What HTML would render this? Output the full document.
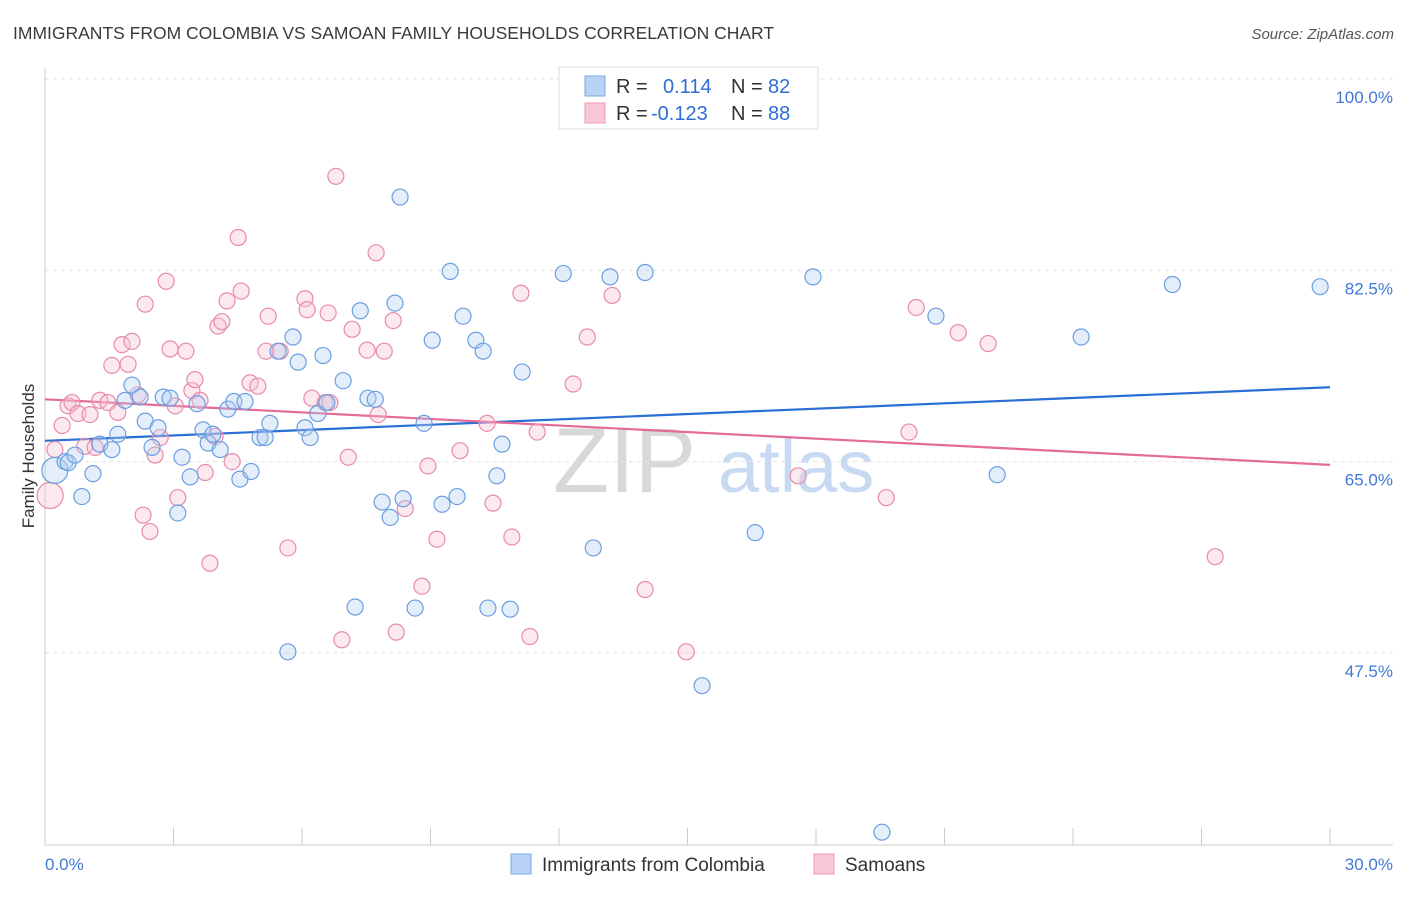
<!DOCTYPE html>
<html><head><meta charset="utf-8">
<style>
body{margin:0;background:#fff;font-family:"Liberation Sans",sans-serif;}
svg text{font-family:"Liberation Sans",sans-serif;}
</style></head>
<body>
<svg id="chart" width="1406" height="892" xmlns="http://www.w3.org/2000/svg">
<text x="13" y="39" font-size="17.5" fill="#3a3a3a">IMMIGRANTS FROM COLOMBIA VS SAMOAN FAMILY HOUSEHOLDS CORRELATION CHART</text>
<text x="1394" y="39" font-size="15" fill="#555" text-anchor="end" font-style="italic">Source: ZipAtlas.com</text>
<g>
<text x="553" y="492" font-size="92" fill="#d8d8d8" font-family="Liberation Serif, serif">ZIP</text>
<text x="718" y="492" font-size="74" fill="#c8daf2">atlas</text>
</g>
<g id="grid"></g>
<g id="axes"></g>
<g id="trends"></g>
<g id="points"></g>
<text transform="translate(34,456) rotate(-90)" font-size="17" fill="#333" text-anchor="middle">Family Households</text>
<g>
<rect x="559" y="67" width="259" height="62" fill="#fff" stroke="#ddd"/>
<rect x="585" y="76" width="20" height="20" fill="#b8d3f5" stroke="#7aa8e6"/>
<rect x="585" y="103" width="20" height="20" fill="#f9c8d8" stroke="#ee9ab5"/>
<text x="616" y="93" font-size="20" fill="#333">R = </text>
<text x="663" y="93" font-size="20" fill="#2d6fd6">0.114</text>
<text x="731" y="93" font-size="20" fill="#333">N = </text>
<text x="768" y="93" font-size="20" fill="#2d6fd6">82</text>
<text x="616" y="120" font-size="20" fill="#333">R = </text>
<text x="651" y="120" font-size="20" fill="#2d6fd6">-0.123</text>
<text x="731" y="120" font-size="20" fill="#333">N = </text>
<text x="768" y="120" font-size="20" fill="#2d6fd6">88</text>
</g>
<g>
<rect x="511" y="854" width="20" height="20" fill="#b8d3f5" stroke="#7aa8e6"/>
<text x="542" y="871" font-size="19" fill="#333">Immigrants from Colombia</text>
<rect x="814" y="854" width="20" height="20" fill="#f9c8d8" stroke="#ee9ab5"/>
<text x="845" y="871" font-size="19" fill="#333">Samoans</text>
</g>
</svg>
<script>
const yTicks=[100,82.5,65,47.5];
const yTickLabels=["100.0%","82.5%","65.0%","47.5%"];
const xTickLabels=["0.0%","30.0%"];
const blueX=[0.23,0.47,0.54,0.70,0.86,1.12,1.28,1.56,1.70,1.87,2.03,2.22,2.34,2.50,2.64,2.76,2.92,3.10,3.20,3.39,3.55,3.69,3.81,3.92,4.09,4.27,4.41,4.55,4.67,4.81,5.02,5.14,5.25,5.44,5.67,5.79,5.91,6.07,6.19,6.37,6.49,6.58,6.96,7.24,7.36,7.54,7.71,7.87,8.06,8.17,8.36,8.29,8.64,8.85,9.04,9.27,9.46,9.62,9.76,10.06,10.23,10.34,10.55,10.67,10.86,11.14,12.10,12.80,13.19,14.01,15.34,16.58,17.93,19.54,20.80,22.23,24.19,26.32,29.77];
const blueY=[64.2,65.0,64.9,65.6,61.8,63.9,66.6,66.1,67.5,70.6,72.0,70.9,68.7,66.3,68.1,70.9,70.8,60.3,65.4,63.6,70.3,67.9,66.7,67.5,66.1,69.8,70.5,63.4,70.5,64.1,67.2,67.2,68.5,75.1,47.6,76.4,74.1,68.1,67.2,69.4,74.7,70.4,72.4,51.7,78.8,70.8,70.7,61.3,59.9,79.5,61.6,89.2,51.6,68.5,76.1,61.1,82.4,61.8,78.3,76.1,75.1,51.6,63.7,66.6,51.5,73.2,82.2,57.1,81.9,82.3,44.5,58.5,81.9,31.1,78.3,63.8,76.4,81.2,81.0];
const pinkX=[0.12,0.23,0.40,0.54,0.63,0.77,0.93,1.05,1.17,1.28,1.47,1.56,1.70,1.80,1.94,2.03,2.17,2.29,2.34,2.45,2.57,2.69,2.83,2.92,3.04,3.10,3.29,3.43,3.50,3.62,3.74,3.85,3.97,4.04,4.13,4.25,4.37,4.51,4.58,4.79,4.97,5.16,5.21,5.49,5.67,6.07,6.12,6.23,6.54,6.61,6.65,6.79,6.93,7.08,7.17,7.52,7.73,7.78,7.92,8.13,8.20,8.41,8.80,8.94,9.15,9.69,10.32,10.46,10.90,11.11,11.32,11.49,12.33,12.66,13.24,14.01,14.97,17.58,19.64,20.17,20.34,21.32,22.02,27.32];
const pinkY=[61.9,66.1,68.3,70.1,70.4,69.4,66.4,69.3,66.3,70.6,70.4,73.8,69.5,75.7,73.9,76.0,71.1,60.1,79.4,58.6,65.6,67.2,81.5,75.3,70.1,61.7,75.1,71.5,72.5,70.6,64.0,55.7,67.3,77.4,77.8,79.7,65.0,85.5,80.6,72.2,71.9,75.1,78.3,75.1,57.1,79.9,78.9,70.8,70.4,78.6,70.4,91.1,48.7,65.4,77.1,75.2,84.1,69.3,75.1,77.9,49.4,60.7,53.6,64.6,57.9,66.0,68.5,61.2,58.1,80.4,49.0,67.7,72.1,76.4,80.2,53.3,47.6,63.7,61.7,67.7,79.1,76.8,75.8,56.3];
const blueTrend=[66.9,71.8];
const pinkTrend=[70.7,64.7];
const NS="http://www.w3.org/2000/svg";
const X0=45,X1=1330,Ytop=79,pxPerY=191.3/17.5;
function sx(v){return X0+(v/30)*(X1-X0);}
function sy(v){return Ytop+(100-v)*pxPerY;}
function mk(tag,attrs,parent){const e=document.createElementNS(NS,tag);for(const k in attrs)e.setAttribute(k,attrs[k]);document.getElementById(parent).appendChild(e);return e;}
yTicks.forEach((t,i)=>{
 const l=mk('line',{x1:X0,x2:1393,y1:sy(t),y2:sy(t),stroke:'#e2e2e2','stroke-dasharray':'4,4'},'grid');
 
 
 const tx=mk('text',{x:1393,y:sy(t)+24,'font-size':17,fill:'#3f78d6','text-anchor':'end'},'axes');
 tx.textContent=yTickLabels[i];
 
 
});
const ax=mk('line',{x1:X0,x2:1393,y1:845,y2:845,stroke:'#ccc'},'axes');


const ay=mk('line',{x1:X0,x2:X0,y1:68,y2:845,stroke:'#ccc'},'axes');


for(let i=0;i<=10;i++){
 const t=mk('line',{x1:sx(i*3),x2:sx(i*3),y1:828,y2:845,stroke:'#ccc'},'axes');
 
 
}
[[0,'start',45],[30,'end',1393]].forEach((d,i)=>{
 const t=mk('text',{x:d[2],y:870,'font-size':17,fill:'#3f78d6','text-anchor':d[1]},'axes');
 t.textContent=xTickLabels[i];
 
 
});
function dots(xs,ys,fill,stroke,name){
 xs.forEach((x,i)=>{
  const c=mk('circle',{cx:sx(x),cy:sy(ys[i]),r:i===0?13:8,fill:fill,'fill-opacity':0.35,stroke:stroke,'stroke-width':1.2},'points');
  
  
 });
}
dots(pinkX,pinkY,'#f7bfd1','#e88aab','samoan-point');
dots(blueX,blueY,'#b3cff3','#6c9ee0','colombia-point');
const bt=mk('line',{x1:sx(0),y1:sy(blueTrend[0]),x2:sx(30),y2:sy(blueTrend[1]),stroke:'#2a6fd4','stroke-width':2.2},'trends');


const pt=mk('line',{x1:sx(0),y1:sy(pinkTrend[0]),x2:sx(30),y2:sy(pinkTrend[1]),stroke:'#e46a98','stroke-width':2.2},'trends');


</script>
</body></html>
